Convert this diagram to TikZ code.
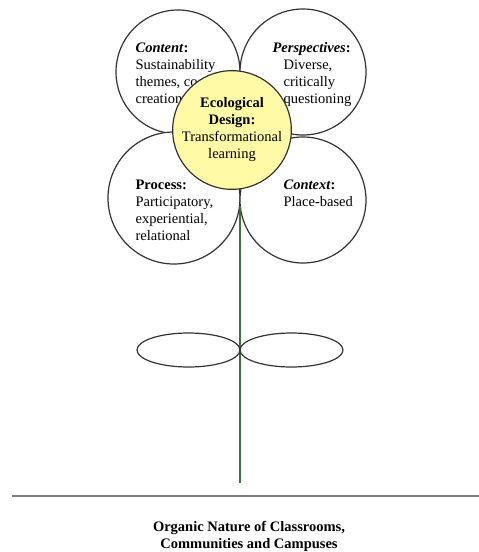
\documentclass[tikz,border=0pt]{standalone}
\usepackage{fontspec}
\setmainfont{Liberation Serif}
\usetikzlibrary{shapes.geometric}

\definecolor{heartyellow}{RGB}{255,250,165}
\definecolor{stemgreen}{RGB}{58,115,55}
\definecolor{groundgray}{RGB}{125,125,125}

\begin{document}
\begin{tikzpicture}[x=1pt, y=-1pt,
                    line width=1.2pt,
                    font=\fontsize{14.5}{17}\selectfont]
    \tikzstyle{petal}=[circle, draw=black!80, fill=white, inner sep=0pt]
    \tikzstyle{heart}=[petal, fill=heartyellow, minimum size=116pt, align=center]
    \tikzstyle{leaf}=[ellipse, draw=black!80, minimum width=103pt, minimum height=34pt, inner sep=0pt]
    \tikzstyle{words}=[inner sep=0pt, align=left, anchor=north west]
    \tikzstyle{caption}=[inner sep=0pt, align=center, font=\fontsize{14.5}{17}\selectfont\bfseries]

    \useasboundingbox (0,0) rectangle (479,552);

    % petals
    \node[petal, minimum size=124pt] (content) at (178,72) {};
    \node[petal, minimum size=126pt] (perspectives) at (303,72) {};
    \node[petal, minimum size=132pt] (process) at (174,198) {};
    \node[petal, minimum size=126pt] (context) at (303,200) {};

    \node[words] (contentText) at (135,42) {\textbf{\textit{Content}:}\\Sustainability\\themes, co-\\creation};
    \node[words] (perspHead) at (272,42) {\textbf{\textit{Perspectives}:}};
    \node[words] (perspText) at (283,59) {Diverse,\\critically\\questioning};
    \node[words] (processText) at (135,179) {\textbf{Process:}\\Participatory,\\experiential,\\relational};
    \node[words] (contextText) at (283,179) {\textbf{\textit{Context}:}\\Place-based};

    % centre
    \node[heart] (design) at (232,130) {\textbf{Ecological}\\\textbf{Design:}\\Transformational\\learning};

    % stem and leaves
    \coordinate (stemTop) at (240,206);
    \coordinate (stemFoot) at (240,483);
    \draw[stemgreen, line width=2pt] (stemTop) -- (stemFoot);
    \node[leaf] (leafLeft) at (188.5,350) {};
    \node[leaf] (leafRight) at (291.5,350) {};

    % ground
    \coordinate (groundWest) at (12,496);
    \coordinate (groundEast) at (479,496);
    \draw[groundgray, line width=2pt] (groundWest) -- (groundEast);

    \node[caption] (title) at (249,536) {Organic Nature of Classrooms,\\Communities and Campuses};
\end{tikzpicture}
\end{document}
